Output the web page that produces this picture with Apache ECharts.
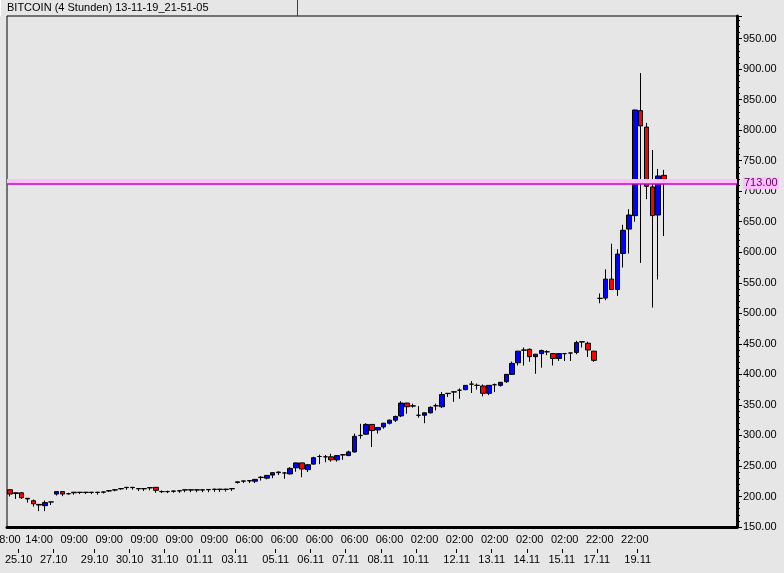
<!DOCTYPE html>
<html>
<head>
<meta charset="utf-8">
<title>BITCOIN (4 Stunden)</title>
<script src="https://cdn.jsdelivr.net/npm/echarts@6/dist/echarts.min.js"></script>
<style>
  html, body { margin: 0; padding: 0; background: #e6e6e6; }
  #chart { width: 784px; height: 573px; }
</style>
</head>
<body>
<div id="chart"></div>
<script>
// 4-Stunden-Kerzen, je [open, close, low, high]
var candles = [
  [211, 204, 200, 212], [206, 205, 196, 206.5], [206, 198, 196, 207], [197, 196, 190, 197.5],
  [193, 188, 183.5, 195], [187, 186, 176, 187.5], [185, 190, 176, 193.5], [191, 191, 186, 191.5],
  [204, 208, 201.5, 208.5], [208, 204, 200.5, 208.5], [204.5, 204.5, 203, 206], [207, 206, 203, 207],
  [207, 206.5, 204, 207.5], [207, 206.5, 204, 207.5], [207, 206.5, 204, 207.5], [207, 206.5, 203, 207.5],
  [207.5, 207, 205, 208], [209.5, 209, 207.5, 210], [211, 210.5, 208.5, 212], [213, 212.5, 211, 213.5],
  [215, 214.5, 211, 215.5], [215, 214.5, 211, 215.5], [213, 212.5, 209, 213.5], [213, 212.5, 209, 213.5],
  [214.5, 214, 210, 215], [215, 210, 206, 215.5], [208, 208, 205.5, 210], [208, 208, 205.5, 209.5],
  [209, 208.5, 206, 209.5], [209.5, 209, 206, 210], [211, 210.5, 207, 211.5], [211, 210.5, 207, 211.5],
  [211, 210.5, 207, 211.5], [211, 210.5, 207, 211.5], [211.5, 211, 207, 212], [212, 211.5, 207.5, 212.5],
  [212, 211.5, 207.5, 212.5], [212, 211.5, 208, 212.5], [213, 212.5, 209, 213.5], [224, 223, 221, 224.5],
  [225.5, 225, 222, 226], [226, 225.5, 222, 226.5], [225, 228, 222, 228.5], [231.5, 231, 226, 233.5],
  [230, 234.5, 228, 235], [235, 239, 230, 239.5], [240, 239, 235, 241], [238.5, 238.5, 229, 240],
  [237, 246, 236, 248], [247, 255, 240.5, 255.5], [255, 245, 231.5, 255.5], [244, 252, 240, 252.5],
  [253, 263.5, 252, 265], [265.5, 265.5, 253, 268.5], [265, 265, 256, 268], [265, 260, 257, 270],
  [260, 267, 257, 267.5], [268.5, 268, 260, 269], [267, 273, 266, 275], [273, 298.5, 272, 303],
  [300, 300, 294.5, 319], [302, 318, 301, 320], [318, 308, 281, 318.5], [309, 313, 303, 313.5],
  [314, 320, 311, 320.5], [320, 325, 318, 326], [325, 331, 322, 332.5], [332, 353, 330, 356],
  [353, 347, 335.5, 353.5], [348, 348.5, 345.5, 352], [333, 333, 329, 348], [333, 337, 320, 337.5],
  [337, 346, 336, 347.5], [348.5, 348.5, 341, 352], [347, 367, 345, 371], [369, 368.5, 363, 369.5],
  [371.5, 371, 355, 372], [374, 374, 360, 377], [375, 382, 374, 382.5], [384, 384, 369.5, 389],
  [382, 382, 375, 385], [381, 369, 364, 383.5], [369, 382, 366, 382.5], [383, 383, 371, 385],
  [382, 387, 380, 387.5], [388, 400, 386, 400.5], [400, 418, 399, 421], [419, 438, 414.5, 438.5],
  [440, 439.5, 414.5, 444], [441, 429, 420.5, 442.5], [429, 433, 401, 433.5], [434, 439, 411, 440.5],
  [437, 437, 431.5, 439.5], [434, 426, 414.5, 434.5], [426, 434, 422, 434.5], [434, 434, 422, 435],
  [435, 435, 422, 435.5], [436, 452, 433, 455], [453.5, 453, 444, 454], [451, 440, 428.5, 453.5],
  [438, 423, 420.5, 438.5], [524.5, 524.5, 516.5, 532.5], [525, 556, 521.5, 572], [556, 539, 538, 614],
  [539, 597, 528.5, 605], [598, 636, 575, 645], [638, 661, 598, 670.5], [660, 833, 650, 833.5],
  [832, 807, 582.5, 893.5], [805, 708, 687, 812], [707, 660, 509.5, 767.5], [661, 725, 555.5, 736.5],
  [726, 714, 626.5, 735]
];

// Platz fuer 125 Kerzen auf der Achse
var slotCount = 125;

// Uhrzeit-Beschriftung (Kerzen-Index -> Text)
var timeIdx = [0, 5, 11, 17, 23, 29, 35, 41, 47, 53, 59, 65, 71, 77, 83, 89, 95, 101, 107];
var timeText = ['8:00', '14:00', '09:00', '09:00', '09:00', '09:00', '09:00', '06:00', '06:00', '06:00',
  '06:00', '06:00', '02:00', '02:00', '02:00', '02:00', '02:00', '22:00', '22:00'];

// Datums-Beschriftung (an der Kerzengrenze)
var dateIdx = [2, 8, 15, 21, 27, 33, 39, 46, 52, 58, 64, 70, 77, 83, 89, 95, 101, 108];
var dateText = ['25.10', '27.10', '29.10', '30.10', '31.10', '01.11', '03.11', '05.11', '06.11', '07.11',
  '08.11', '10.11', '12.11', '13.11', '14.11', '15.11', '17.11', '19.11'];

var levelPrice = 713;

var slots = [], edges = [];
for (var i = 0; i < slotCount; i++) slots.push(i);
for (var j = 0; j <= slotCount; j++) edges.push(j);

var font = { fontFamily: 'Liberation Sans', fontSize: 11, color: '#000' };

var chart = echarts.init(document.getElementById('chart'));
chart.setOption({
  animation: false,
  backgroundColor: '#e6e6e6',
  textStyle: { fontFamily: 'Liberation Sans' },
  graphic: [
    { type: 'line', shape: { x1: 0.5, y1: 0, x2: 0.5, y2: 16 }, style: { stroke: '#ffffff', lineWidth: 1 } },
    { type: 'line', shape: { x1: 297.5, y1: 0, x2: 297.5, y2: 16 }, style: { stroke: '#404040', lineWidth: 1 } },
    { type: 'text', left: 7, top: 2, style: { text: 'BITCOIN (4 Stunden) 13-11-19_21-51-05', font: '11px "Liberation Sans"', fill: '#000' } }
  ],
  grid: {
    left: 7, right: 47, top: 16, bottom: 46,
    containLabel: false,
    outerBoundsMode: 'none',
    show: true, borderColor: '#000', borderWidth: 1, backgroundColor: '#e6e6e6'
  },
  xAxis: [{
    type: 'category',
    data: slots,
    position: 'bottom',
    boundaryGap: true,
    axisLine: { lineStyle: { color: '#000', width: 3 } },
    axisTick: {
      alignWithLabel: true,
      length: 4,
      interval: function (idx) { return idx < candles.length; },
      lineStyle: { color: '#000' }
    },
    axisLabel: Object.assign({
      margin: 7,
      interval: function (idx) { return timeIdx.indexOf(idx) >= 0; },
      formatter: function (v, idx) { var k = timeIdx.indexOf(idx); return k >= 0 ? timeText[k] : ''; }
    }, font),
    splitLine: { show: false }
  }, {
    type: 'category',
    data: edges,
    position: 'bottom',
    offset: 22,
    boundaryGap: false,
    axisLine: { show: false },
    axisTick: {
      length: 4,
      interval: function (idx) { return dateIdx.indexOf(idx) >= 0; },
      lineStyle: { color: '#000' }
    },
    axisLabel: Object.assign({
      margin: 5,
      interval: function (idx) { return dateIdx.indexOf(idx) >= 0; },
      formatter: function (v, idx) { var k = dateIdx.indexOf(idx); return k >= 0 ? dateText[k] : ''; }
    }, font),
    splitLine: { show: false }
  }],
  yAxis: {
    type: 'value',
    position: 'right',
    min: 150,
    max: 987,
    interval: 50,
    axisLine: { show: true, lineStyle: { color: '#000', width: 3 } },
    axisTick: { show: true, length: 5, lineStyle: { color: '#000' } },
    minorTick: { show: true, splitNumber: 5, length: 3, lineStyle: { color: '#000' } },
    axisLabel: Object.assign({
      margin: 6,
      showMaxLabel: false,
      formatter: function (v) { return v.toFixed(2); }
    }, font),
    splitLine: { show: false }
  },
  series: [{
    type: 'candlestick',
    xAxisIndex: 0,
    data: candles,
    barWidth: 5,
    itemStyle: {
      color: '#0000ff',
      color0: '#ff0000',
      borderColor: '#000',
      borderColor0: '#000',
      borderColorDoji: '#000',
      borderWidth: 1
    },
    markLine: {
      silent: true,
      symbol: 'none',
      data: [
        { yAxis: levelPrice + 3, lineStyle: { color: '#ffbfff', width: 5, type: 'solid' }, label: { show: false } },
        {
          yAxis: levelPrice,
          lineStyle: { color: '#c800c8', width: 1.5, type: 'solid' },
          label: {
            show: true, position: 'end', distance: 6,
            formatter: levelPrice.toFixed(2),
            backgroundColor: '#ffbfff', color: '#600060',
            fontFamily: 'Liberation Sans', fontSize: 11, padding: [1, 1, 0, 1]
          }
        }
      ]
    }
  }]
});
</script>
</body>
</html>
